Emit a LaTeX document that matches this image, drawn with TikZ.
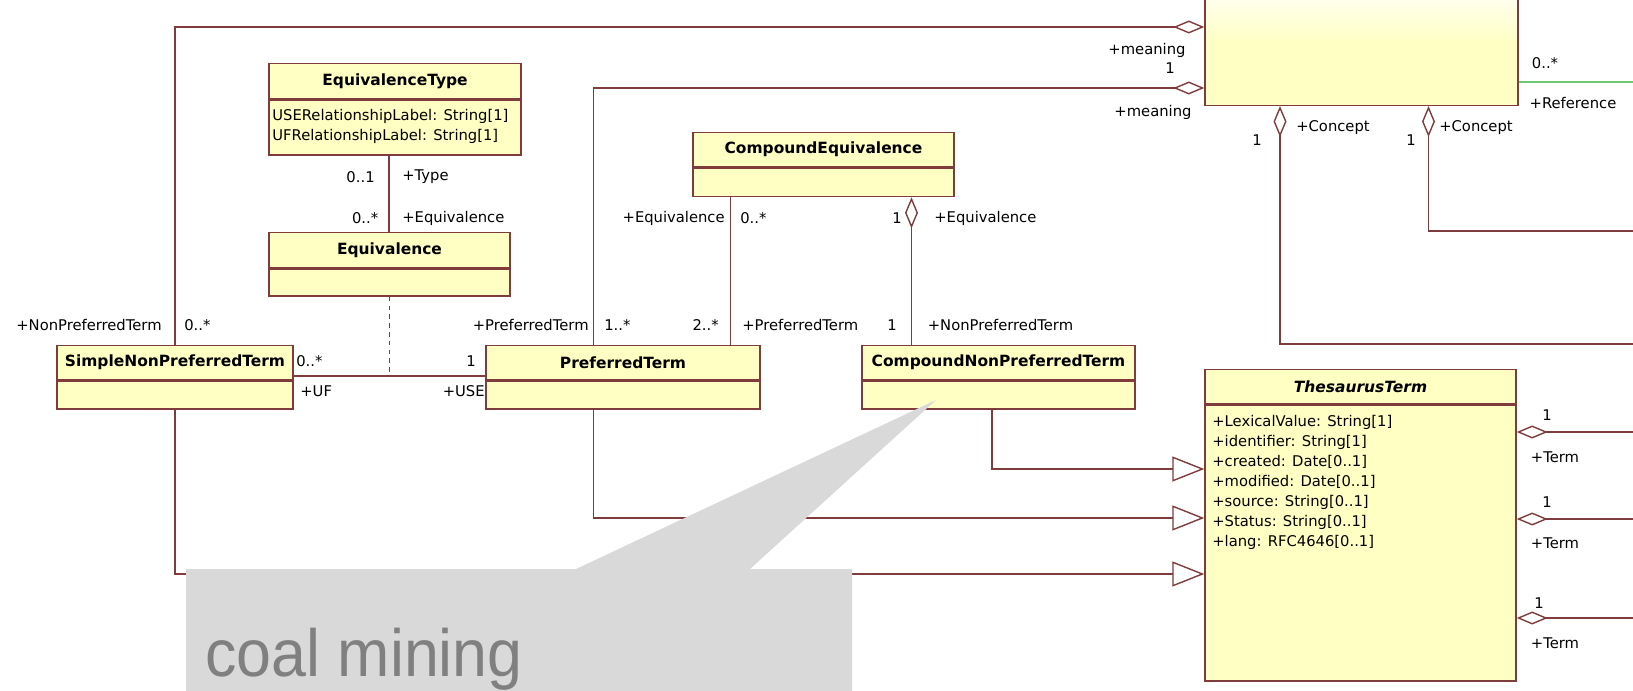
\documentclass[tikz,border=0pt]{standalone}
\usepackage{fontspec}
\setmainfont{DejaVu Sans}
\newfontfamily\notefont{Liberation Sans}
\usetikzlibrary{arrows.meta}

\definecolor{umlfill}{RGB}{255,255,196}
\definecolor{umlline}{RGB}{128,60,60}
\definecolor{refgreen}{RGB}{110,200,110}
\definecolor{notegray}{RGB}{217,217,217}
\definecolor{notetext}{RGB}{128,128,128}

\newdimen\pxu
\pxu=0.02cm
\newcommand{\lblfont}{\fontsize{8.4}{10}\selectfont}
\newcommand{\attrfont}{\fontsize{8.4}{11.4}\selectfont}
\newcommand{\hdrfont}{\fontsize{8.8}{10}\selectfont\bfseries}

\tikzset{
  hdr/.style={draw=umlline, fill=umlfill, line width=0.8pt, inner sep=0pt, anchor=north, font=\hdrfont},
  body/.style={draw=umlline, fill=umlfill, line width=0.8pt, inner sep=0pt, anchor=north},
  lbl/.style={inner sep=0pt, font=\lblfont},
  attr/.style={inner sep=0pt, anchor=north west, align=left, font=\attrfont},
  link/.style={draw=umlline, line width=0.8pt},
  aggr/.style={link, -{Diamond[open, length=6.2mm, width=2.6mm]}},
  aggrstart/.style={link, {Diamond[open, length=6.2mm, width=2.6mm]}-},
  gen/.style={link, -{Triangle[open, length=6.4mm, width=5mm]}},
}

\begin{document}
\begin{tikzpicture}[x=0.02cm, y=-0.02cm]
  \useasboundingbox (0,0) rectangle (1633,690);
  \clip (0,0) rectangle (1633,690);
  % Concept class, cut off at the top
  \node[draw=umlline, line width=0.8pt, top color=white, bottom color=umlfill, middle color=umlfill,
        minimum width=313\pxu, minimum height=126\pxu, inner sep=0pt, anchor=south] (concept) at (1361.5,106) {};
  % Classes
  \node[hdr, minimum width=252\pxu, minimum height=35\pxu] (et) at (395,63) {EquivalenceType};
  \node[body, minimum width=252\pxu, minimum height=55\pxu] (et-b) at (et.south) {};
  \node[attr] (et-a) at (272,109) {USERelationshipLabel: String[1]\\UFRelationshipLabel: String[1]};
  \node[hdr, minimum width=241\pxu, minimum height=35\pxu] (eq) at (389.5,232) {Equivalence};
  \node[body, minimum width=241\pxu, minimum height=27\pxu] (eq-b) at (eq.south) {};
  \node[hdr, minimum width=261\pxu, minimum height=34\pxu] (ce) at (823.5,132) {CompoundEquivalence};
  \node[body, minimum width=261\pxu, minimum height=28.5\pxu] (ce-b) at (ce.south) {};
  \node[hdr, minimum width=236\pxu, minimum height=34\pxu] (snpt) at (175,345) {SimpleNonPreferredTerm};
  \node[body, minimum width=236\pxu, minimum height=28\pxu] (snpt-b) at (snpt.south) {};
  \node[hdr, minimum width=274\pxu, minimum height=34\pxu] (pt) at (623,345) {PreferredTerm};
  \node[body, minimum width=274\pxu, minimum height=28\pxu] (pt-b) at (pt.south) {};
  \node[hdr, minimum width=273\pxu, minimum height=34\pxu] (cnpt) at (998.5,345) {CompoundNonPreferredTerm};
  \node[body, minimum width=273\pxu, minimum height=28\pxu] (cnpt-b) at (cnpt.south) {};
  \node[hdr, minimum width=311\pxu, minimum height=34\pxu] (tt) at (1360.5,369) {\itshape ThesaurusTerm};
  \node[body, minimum width=311\pxu, minimum height=276\pxu] (tt-b) at (tt.south) {};
  \node[attr] (tt-a) at (1212,415) {+LexicalValue: String[1]\\+identifier: String[1]\\+created: Date[0..1]\\
    +modified: Date[0..1]\\+source: String[0..1]\\+Status: String[0..1]\\+lang: RFC4646[0..1]};
  % Links to Concept
  \draw[aggr] (snpt.north) |- (concept.west |- 0,27);
  \draw[aggr] (pt.north -| 593.5,0) |- (concept.west |- 0,88);
  \node[lbl, anchor=east] (l-npt) at (162,325) {+NonPreferredTerm};
  \node[lbl, anchor=west] (m-npt) at (184,325) {0..*};
  \node[lbl, anchor=east] (l-pt) at (589,325) {+PreferredTerm};
  \node[lbl, anchor=west] (m-pt) at (604,325) {1..*};
  \node[lbl] (l-mean1) at (1147,50) {+meaning};
  \node[lbl] (m-mean) at (1170,68) {1};
  \node[lbl] (l-mean2) at (1153,112) {+meaning};
  % Equivalence type
  \draw[link] (et-b.south -| 389,0) -- (eq.north -| 389,0);
  \node[lbl, anchor=east] (m-type) at (375,177) {0..1};
  \node[lbl, anchor=west] (l-type) at (402,177) {+Type};
  \node[lbl, anchor=east] (m-equiv) at (378.6,218) {0..*};
  \node[lbl, anchor=west] (l-equiv) at (402,218) {+Equivalence};
  % Compound equivalence
  \draw[link] (ce-b.south -| 730.5,0) -- (pt.north -| 730.5,0);
  \draw[aggr] (cnpt.north -| 911.5,0) -- (ce-b.south -| 911.5,0);
  \node[lbl, anchor=east] (l-ce1) at (725,218) {+Equivalence};
  \node[lbl, anchor=west] (m-ce1) at (740,218) {0..*};
  \node[lbl, anchor=east] (m-ce2) at (719,325) {2..*};
  \node[lbl, anchor=west] (l-ce2) at (742,325) {+PreferredTerm};
  \node[lbl] (m-ce3) at (897,218) {1};
  \node[lbl, anchor=west] (l-ce3) at (934,218) {+Equivalence};
  \node[lbl] (m-ce4) at (892,325) {1};
  \node[lbl, anchor=west] (l-ce4) at (927.5,325) {+NonPreferredTerm};
  % UF / USE
  \draw[link] (snpt.east |- 0,376) -- (pt.west |- 0,376);
  \draw[link, dash pattern=on 2.6pt off 2.4pt] (eq-b.south) -- (eq-b.south |- 0,376);
  \node[lbl, anchor=west] (m-uf) at (296,361) {0..*};
  \node[lbl, anchor=west] (l-uf) at (300,391) {+UF};
  \node[lbl] (m-use) at (471,361) {1};
  \node[lbl, anchor=east] (l-use) at (485,391) {+USE};
  % Generalizations
  \draw[gen] (cnpt-b.south -| 992,0) |- (tt-b.west |- 0,469);
  \draw[gen] (pt-b.south -| 593.5,0) |- (tt-b.west |- 0,518);
  \draw[gen] (snpt-b.south) |- (tt-b.west |- 0,574);
  % Concept, right side
  \coordinate (cref) at (1633,82);
  \coordinate (cout1) at (1633,344);
  \coordinate (cout2) at (1633,231);
  \draw[line width=0.8pt, refgreen] (concept.east |- 0,82) -- (cref);
  \draw[aggrstart] (concept.south -| 1280,0) |- (cout1);
  \draw[aggrstart] (concept.south -| 1428.5,0) |- (cout2);
  \node[lbl] (m-ref) at (1545,63) {0..*};
  \node[lbl] (l-ref) at (1573,103) {+Reference};
  \node[lbl] (m-con1) at (1257,140) {1};
  \node[lbl] (l-con1) at (1333,128) {+Concept};
  \node[lbl] (m-con2) at (1411,140) {1};
  \node[lbl] (l-con2) at (1476,128) {+Concept};
  % Term links, right side
  \coordinate (tout1) at (1633,432);
  \coordinate (tout2) at (1633,519);
  \coordinate (tout3) at (1633,618);
  \draw[aggrstart] (tt-b.east |- 0,432) -- (tout1);
  \draw[aggrstart] (tt-b.east |- 0,519) -- (tout2);
  \draw[aggrstart] (tt-b.east |- 0,618) -- (tout3);
  \node[lbl] (m-term1) at (1547,415) {1};
  \node[lbl] (l-term1) at (1555,457) {+Term};
  \node[lbl] (m-term2) at (1547,502) {1};
  \node[lbl] (l-term2) at (1555,543) {+Term};
  \node[lbl] (m-term3) at (1539,603) {1};
  \node[lbl] (l-term3) at (1555,643) {+Term};
  % Callout
  \coordinate (tip) at (936,400);
  \fill[notegray] (186,569) -- (576,569) -- (tip) -- (750,569) -- (852,569) -- (852,700) -- (186,700) -- cycle;
  \node[anchor=base west, inner sep=0pt, text=notetext, font=\notefont\fontsize{38}{40}\selectfont] (note) at (205,676)
    {\scalebox{0.94}[1]{coal mining}};
\end{tikzpicture}
\end{document}
